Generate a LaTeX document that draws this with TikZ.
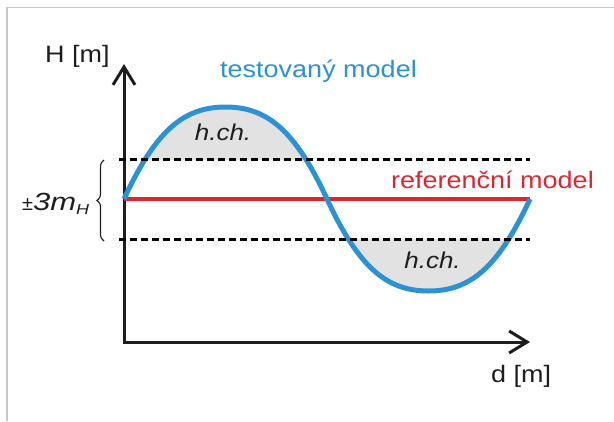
\documentclass[tikz,border=0pt]{standalone}
\usepackage{fontspec}
\setmainfont{Liberation Sans}
\usetikzlibrary{arrows.meta,decorations.pathreplacing}
\definecolor{curveblue}{HTML}{2B92D5}
\definecolor{refred}{HTML}{DE2630}
\definecolor{humpgray}{HTML}{E2E2E2}
\definecolor{framegray}{HTML}{C6C6C6}
\definecolor{inkdark}{HTML}{1E1E1E}
\newcommand{\sq}[1]{\scalebox{1}[0.88]{#1}}
\begin{document}
\begin{tikzpicture}[x=1pt,y=-1pt,
  lbl/.style={font=\fontsize{27}{30}\selectfont, inner sep=0pt, anchor=base west},
  hch/.style={font=\fontsize{26}{30}\selectfont\itshape, text=inkdark, inner sep=0pt, anchor=base},
  axisline/.style={line width=3pt, draw=inkdark, line join=miter, {Straight Barb[length=18pt,width=22pt]}-{Straight Barb[length=18pt,width=22pt]}},
  limitline/.style={line width=3pt, draw=black, dash pattern=on 7pt off 4pt},
  refline/.style={line width=4.5pt, draw=refred},
  curveline/.style={line width=5pt, draw=curveblue},
  framestyle/.style={line width=1.5pt, draw=framegray}]
\useasboundingbox (0,0) rectangle (614,421);
% frame
\draw[framestyle] (7,421) -- (7,7.5) -- (614,7.5);
% key points
\coordinate (O) at (124,342);
\coordinate (Ytop) at (124,64);
\coordinate (Xend) at (530,342);
\coordinate (R0) at (124,199);
\coordinate (R1) at (530,199);
\coordinate (U0) at (119,159);
\coordinate (U1) at (530,159);
\coordinate (L0) at (119,239);
\coordinate (L1) at (530,239);
\coordinate (P) at (225.5,107);
\coordinate (M) at (327,199);
\coordinate (T) at (428.5,291);
% gray humps
\begin{scope}
  \clip (0,0) rectangle (614,159);
  \fill[humpgray] (R0) .. controls (156,130) and (184,107) .. (P)
    .. controls (267,107) and (295,130) .. (M) -- cycle;
\end{scope}
\begin{scope}
  \clip (0,239) rectangle (614,421);
  \fill[humpgray] (M) .. controls (359,268) and (387,291) .. (T)
    .. controls (470,291) and (498,268) .. (R1) -- cycle;
\end{scope}
% axes
\draw[axisline] (Ytop) -- (O) -- (Xend);
% reference line
\draw[refline] (R0) -- (R1);
% tested model curve
\draw[curveline] (R0) .. controls (156,130) and (184,107) .. (P)
  .. controls (267,107) and (295,130) .. (M)
  .. controls (359,268) and (387,291) .. (T)
  .. controls (470,291) and (498,268) .. (R1);
% limit lines
\draw[limitline] (U0) -- (U1);
\draw[limitline] (L0) -- (L1);
% brace
\coordinate (B0) at (104,241);
\coordinate (B1) at (104,160);
\draw[line width=1.1pt, draw=inkdark, decorate, decoration={brace, amplitude=7pt}] (B0) -- (B1);
% labels
\node[lbl, text=inkdark] (hlab) at (45,62) {\sq{H [m]}};
\node[lbl, text=inkdark] (dlab) at (491,382) {\sq{d [m]}};
\node[lbl, text=curveblue] (tlab) at (220,77) {\sq{testovaný model}};
\node[lbl, text=refred] (rlab) at (391,188) {\sq{referenční model}};
\node[hch] (h1) at (223,140) {\sq{h.ch.}};
\node[hch] (h2) at (432.5,268) {\sq{h.ch.}};
\node[inner sep=0pt, anchor=base west, text=inkdark] (mlab) at (22,210)
  {{\fontsize{20}{22}\selectfont ±}{\fontsize{31}{34}\selectfont\itshape\scalebox{1}[0.8]{3m}}\raisebox{-4pt}{\fontsize{18}{20}\selectfont\itshape\scalebox{1}[0.8]{H}}};
\end{tikzpicture}
\end{document}
